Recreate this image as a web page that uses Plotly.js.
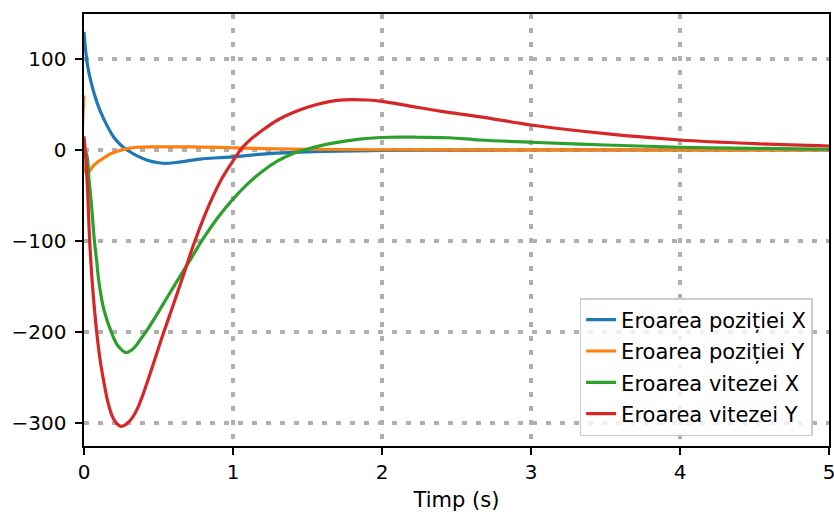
<!DOCTYPE html>
<html>
<head>
<meta charset="utf-8">
<script src="https://cdn.plot.ly/plotly-3.0.1.min.js"></script>
<style>html,body{margin:0;padding:0;background:#fff;}#chart{width:834px;height:517px;}</style>
</head>
<body>
<div id="chart"></div>
<script>
// Series names (legend labels)
const seriesNames = ["Eroarea poziției X", "Eroarea poziției Y", "Eroarea vitezei X", "Eroarea vitezei Y"];

// Eroarea poziției X
const timePosX = [0, 0.012, 0.027, 0.05, 0.09, 0.13, 0.2, 0.25, 0.29, 0.35, 0.42, 0.5, 0.56, 0.65, 0.78, 0.9, 1.0, 1.2, 1.4, 1.6, 2.0, 2.5, 3.0, 4.0, 5.0];
const errPosX  = [130, 108, 90, 73, 51, 35, 14, 5, 0, -6, -11, -14, -14.6, -13, -10, -8.5, -7.5, -4.5, -2.7, -1.6, -0.5, -0.1, 0, 0, 0];

// Eroarea poziției Y
const timePosY = [0, 0.004, 0.03, 0.06, 0.094, 0.14, 0.18, 0.23, 0.29, 0.36, 0.45, 0.6, 0.8, 1.0, 1.2, 1.5, 2.0, 3.0, 4.0, 5.0];
const errPosY  = [60, -23, -24, -18, -13, -8, -4, -1, 1.5, 3, 3.5, 3.5, 3.2, 2.5, 1.5, 0.8, 0.3, 0.1, 0, 0];

// Eroarea vitezei X
const timeVelX = [0, 0.018, 0.035, 0.05, 0.07, 0.085, 0.1, 0.134, 0.19, 0.23, 0.284, 0.32, 0.35, 0.38, 0.42, 0.5, 0.57, 0.644, 0.72, 0.79, 0.9, 1.0, 1.1, 1.2, 1.3, 1.4, 1.5, 1.65, 1.85, 2.05, 2.25, 2.45, 2.66, 3.0, 3.5, 4.0, 4.5, 5.0];
const errVelX  = [0, -5, -35, -60, -100, -122, -145, -176, -203, -216, -223, -220, -215, -208, -199, -178, -159, -139, -119, -100, -74, -54, -37, -23, -12, -4, 1, 7, 12, 14, 14, 13.5, 11, 8.5, 5.5, 3, 1.8, 0.8];

// Eroarea vitezei Y
const timeVelY = [0, 0.01, 0.022, 0.038, 0.056, 0.085, 0.11, 0.134, 0.16, 0.19, 0.22, 0.246, 0.28, 0.32, 0.36, 0.40, 0.468, 0.53, 0.6, 0.66, 0.74, 0.8, 0.86, 0.92, 0.98, 1.05, 1.1, 1.2, 1.3, 1.4, 1.5, 1.6, 1.7, 1.8, 1.9, 2.0, 2.2, 2.4, 2.66, 3.0, 3.5, 4.0, 4.5, 5.0];
const errVelY  = [15, -5, -37, -100, -147, -200, -233, -256, -277, -293, -301, -304, -302, -295.5, -284, -267, -234, -203, -170, -141, -102, -76, -53, -33, -17, 0, 9, 22, 33, 41, 47, 51.5, 54.5, 55.5, 55, 53.5, 48, 42.5, 36.5, 27.5, 18, 11, 7, 4.4];

// Axis ticks
const xTicks = [0, 1, 2, 3, 4, 5];
const xTickText = ["0", "1", "2", "3", "4", "5"];
const yTicks = [-300, -200, -100, 0, 100];
const yTickText = ["−300", "−200", "−100", "0", "100"];

const colors = ["#1f77b4", "#ff7f0e", "#2ca02c", "#d62728"];
const xs = [timePosX, timePosY, timeVelX, timeVelY];
const ys = [errPosX, errPosY, errVelX, errVelY];

const traces = seriesNames.map((name, i) => ({
  x: xs[i], y: ys[i], name: name, type: "scatter", mode: "lines",
  legendgroup: "g" + i,
  line: {color: colors[i], width: 3.2, shape: "spline", smoothing: 1.0}
}));

const font = {family: "DejaVu Sans, sans-serif", size: 21, color: "#000"};
const tickFont = {family: "DejaVu Sans, sans-serif", size: 20, color: "#000"};
const axisCommon = {
  showline: true, mirror: true, linecolor: "#000", linewidth: 1.6,
  ticks: "outside", ticklen: 7, tickwidth: 1.6, tickcolor: "#000",
  showgrid: true, gridcolor: "#b0b0b0", gridwidth: 4, griddash: "5px,9px",
  zeroline: false, tickfont: tickFont, ticklabeloverflow: "allow"
};

const layout = {
  width: 834, height: 517,
  margin: {l: 84, r: 5, t: 14, b: 71},
  paper_bgcolor: "#fff", plot_bgcolor: "#fff",
  font: font,
  showlegend: true,
  xaxis: Object.assign({}, axisCommon, {
    range: [0, 5], tickmode: "array", tickvals: xTicks, ticktext: xTickText,
    title: {text: "Timp (s)", font: font, standoff: 10}
  }),
  yaxis: Object.assign({}, axisCommon, {
    range: [-325.6, 149.6], tickmode: "array", tickvals: yTicks, ticktext: yTickText,
    ticklabelstandoff: 5
  }),
  legend: {
    x: 0.978, xanchor: "right", y: 0.023, yanchor: "bottom",
    bgcolor: "rgba(255,255,255,0.8)", bordercolor: "#cccccc", borderwidth: 1.5,
    font: font, traceorder: "grouped", tracegroupgap: 1
  }
};

Plotly.newPlot("chart", traces, layout, {staticPlot: true, displayModeBar: false});
</script>
</body>
</html>
